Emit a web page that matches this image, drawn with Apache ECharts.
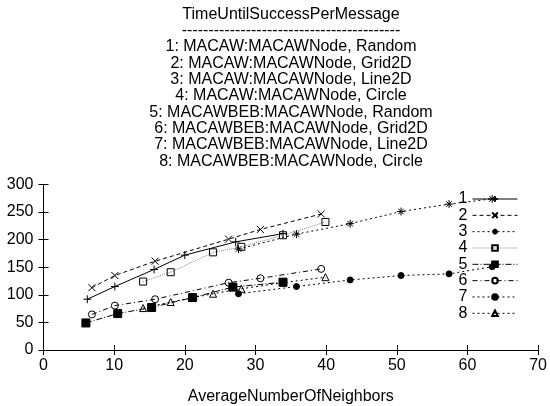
<!DOCTYPE html>
<html>
<head>
<meta charset="utf-8">
<script src="https://cdn.jsdelivr.net/npm/echarts@6/dist/echarts.min.js"></script>
<style>
  html, body { margin: 0; padding: 0; background: #fff; }
  #chart { width: 550px; height: 406px; }
</style>
</head>
<body>
<div id="chart"></div>
<script>
// Average number of neighbours per topology (x) and time until success per message (y)
const titleLines = [
  'TimeUntilSuccessPerMessage',
  '-----------------------------------------',
  '1: MACAW:MACAWNode, Random',
  '2: MACAW:MACAWNode, Grid2D',
  '3: MACAW:MACAWNode, Line2D',
  '4: MACAW:MACAWNode, Circle',
  '5: MACAWBEB:MACAWNode, Random',
  '6: MACAWBEB:MACAWNode, Grid2D',
  '7: MACAWBEB:MACAWNode, Line2D',
  '8: MACAWBEB:MACAWNode, Circle'
];
const seriesNames = ['1', '2', '3', '4', '5', '6', '7', '8'];

const x1 = [6.2, 10.1, 15.65, 20.0, 27.2, 33.9];
const y1 = [92, 115, 146, 172, 196, 211];
const x2 = [6.85, 10.1, 15.8, 26.2, 30.7, 39.3];
const y2 = [113, 135, 161, 201, 218.5, 246.5];
const x3 = [27.6, 35.8, 43.4, 50.6, 57.4, 63.5];
const y3 = [183, 210, 229, 251, 264.5, 274];
const x4 = [14.1, 18.0, 24.0, 28.0, 33.9, 39.9];
const y4 = [124, 141, 177, 187, 208, 232];
const x5 = [6.0, 10.5, 15.3, 21.1, 26.8, 33.9];
const y5 = [49, 66, 77, 95, 114, 123];
const x6 = [6.85, 10.1, 15.8, 26.2, 30.7, 39.3];
const y6 = [64.5, 80.5, 92, 122, 130, 147];
const x7 = [27.6, 35.8, 43.4, 50.6, 57.4, 63.5];
const y7 = [102, 115, 127, 135, 138, 151];
const x8 = [14.1, 18.0, 24.0, 28.0, 33.9, 39.9];
const y8 = [76, 87, 102, 111, 122, 132];

const xTicks = [0, 10, 20, 30, 40, 50, 60, 70];
const yTicks = [0, 50, 100, 150, 200, 250, 300];

const xs = [x1, x2, x3, x4, x5, x6, x7, x8];
const ys = [y1, y2, y3, y4, y5, y6, y7, y8];

const FONT = 'Liberation Sans, Arial, Helvetica, sans-serif';
const CLEAR = 'rgba(0,0,0,0)';

// point-type and line-type for each curve
const styles = [
  { symbol: 'path://M5,0V10M0,5H10', size: 8, fill: CLEAR, dash: 'solid', lineColor: '#000' },
  { symbol: 'path://M0,0L10,10M10,0L0,10', size: 7, fill: CLEAR, dash: [4, 3], lineColor: '#000' },
  { symbol: 'path://M5,0V10M0,5H10M1.5,1.5L8.5,8.5M8.5,1.5L1.5,8.5', size: 8, fill: CLEAR, dash: [2, 3], lineColor: '#000' },
  { symbol: 'path://M0,0H10V10H0Z', size: 7, fill: CLEAR, dash: [1, 1], lineColor: '#888' },
  { symbol: 'rect', size: 8, fill: '#000', dash: [6, 2, 1, 2], lineColor: '#000' },
  { symbol: 'circle', size: 7, fill: CLEAR, dash: [5, 3, 1, 3], lineColor: '#000' },
  { symbol: 'circle', size: 6, fill: '#000', dash: [2, 3], lineColor: '#000' },
  { symbol: 'path://M5,0L10,9H0Z', size: 7, fill: CLEAR, dash: [2, 3], lineColor: '#000' }
];

const series = seriesNames.map((name, i) => ({
  name: name,
  type: 'line',
  xAxisIndex: 0,
  yAxisIndex: 0,
  data: xs[i].map((v, k) => [v, ys[i][k]]),
  symbol: styles[i].symbol,
  symbolSize: styles[i].size,
  showAllSymbol: true,
  itemStyle: { color: styles[i].fill, borderColor: '#000', borderWidth: 1 },
  lineStyle: { color: styles[i].lineColor, width: 1, type: styles[i].dash },
  emphasis: { disabled: true },
  animation: false,
  z: 10 - i
}));

const axisCommon = {
  axisLine: { show: true, lineStyle: { color: '#000', width: 1 } },
  axisTick: { show: true, inside: true, length: 5, lineStyle: { color: '#000', width: 1 } },
  splitLine: { show: false },
  minorTick: { show: false }
};

const chart = echarts.init(document.getElementById('chart'), null, { renderer: 'canvas' });
chart.setOption({
  backgroundColor: '#fff',
  animation: false,
  title: {
    text: titleLines.join('\n'),
    left: 291,
    top: 6,
    padding: 0,
    textAlign: 'center',
    textStyle: {
      fontFamily: FONT,
      fontSize: 16,
      fontWeight: 'normal',
      color: '#000',
      lineHeight: 16.35
    }
  },
  grid: { left: 43.5, right: 11, top: 184.5, bottom: 54, containLabel: false },
  legend: {
    data: seriesNames,
    orient: 'vertical',
    right: 32,
    top: 191,
    align: 'right',
    itemWidth: 45,
    itemHeight: 7,
    itemGap: 0.33,
    padding: 0,
    selectedMode: false,
    lineStyle: { width: 1 },
    textStyle: { fontFamily: FONT, fontSize: 16, color: '#000', lineHeight: 16 }
  },
  xAxis: [
    Object.assign({
      type: 'value', position: 'bottom', min: 0, max: 70, interval: 10,
      name: 'AverageNumberOfNeighbors', nameLocation: 'middle', nameGap: 39,
      nameTextStyle: { fontFamily: FONT, fontSize: 16, color: '#000' },
      axisLabel: {
        fontFamily: FONT, fontSize: 16, color: '#000', margin: 8,
        formatter: v => (xTicks.indexOf(v) >= 0 ? String(v) : '')
      }
    }, axisCommon),
    Object.assign({
      type: 'value', position: 'top', min: 0, max: 70, interval: 10,
      axisLabel: { show: false }
    }, axisCommon)
  ],
  yAxis: [
    Object.assign({
      type: 'value', position: 'left', min: 0, max: 300, interval: 50,
      axisLabel: {
        fontFamily: FONT, fontSize: 16, color: '#000', margin: 10,
        formatter: v => (yTicks.indexOf(v) >= 0 ? String(v) : '')
      }
    }, axisCommon),
    Object.assign({
      type: 'value', position: 'right', min: 0, max: 300, interval: 50,
      axisLabel: { show: false }
    }, axisCommon)
  ],
  series: series
});
</script>
</body>
</html>
